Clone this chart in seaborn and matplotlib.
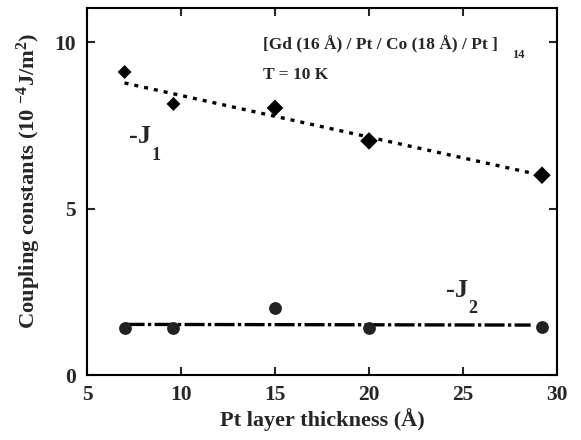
import matplotlib
matplotlib.use("Agg")
import matplotlib.pyplot as plt
import seaborn as sns
import pandas as pd

# data
thickness = [7.0, 9.6, 15.0, 20.0, 29.2]
j1 = [9.1, 8.14, 8.02, 7.03, 6.0]
j2 = [1.41, 1.41, 2.01, 1.41, 1.44]
fit_x = [7.0, 28.6]
fit_j1 = [8.77, 6.07]
fit_j2 = [1.52, 1.50]
xticks = [5, 10, 15, 20, 25, 30]
yticks = [0, 5, 10]

sns.set_theme(style="ticks")
plt.rcParams['font.family'] = ['Liberation Serif', 'DejaVu Serif']
plt.rcParams['font.weight'] = 'bold'
plt.rcParams['mathtext.fontset'] = 'custom'
plt.rcParams['mathtext.rm'] = 'Liberation Serif:bold'
plt.rcParams['mathtext.it'] = 'Liberation Serif:bold'
plt.rcParams['mathtext.bf'] = 'Liberation Serif:bold'

fig = plt.figure(figsize=(5.81, 4.40), dpi=100)
ax = fig.add_axes([0.1497, 0.1477, 0.809, 0.834])

df = pd.DataFrame({"x": thickness, "j1": j1, "j2": j2})
dfit = pd.DataFrame({"x": fit_x, "j1": fit_j1, "j2": fit_j2})

sns.lineplot(data=dfit, x="x", y="j1", ax=ax, color="black", lw=2.4,
             linestyle=(0, (1.2, 1.8)))
sns.lineplot(data=dfit, x="x", y="j2", ax=ax, color="black", lw=2.4,
             linestyle=(0, (6, 1, 1, 1)))
sizes = [50, 50, 72, 80, 80]
ax.scatter(df["x"], df["j1"], marker="D", s=sizes, color="black",
           linewidths=0, zorder=3)
ax.scatter(df["x"], df["j2"], marker="o", s=85, color="#222222",
           linewidths=0, zorder=3)

ax.set_xlim(5, 30)
ax.set_ylim(0, 11.02)
ax.set_xticks(xticks)
ax.set_yticks(yticks)
ax.tick_params(direction="in", top=True, right=True, length=6, width=1.5,
               labelsize=15.5)
ax.tick_params(axis="x", pad=7)
ax.tick_params(axis="y", pad=8)
for lab in ax.get_xticklabels() + ax.get_yticklabels():
    lab.set_fontweight("bold")
for s in ax.spines.values():
    s.set_linewidth(1.5)
    s.set_color("black")

ax.set_xlabel("Pt layer thickness (Å)", fontsize=16, fontweight="bold")
ax.xaxis.set_label_coords(0.5, -0.09)
ax.set_ylabel(r"Coupling constants (10 $^{-4}$J/m$^{2}$)", fontsize=16.2,
              fontweight="bold")
ax.yaxis.set_label_coords(-0.094, 0.53)

ax.text(0.374, 0.899, "[Gd (16 Å) / Pt / Co (18 Å) / Pt ]",
        transform=ax.transAxes, fontsize=12.5, fontweight="bold", va="center")
ax.text(0.905, 0.872, "14", transform=ax.transAxes, fontsize=9,
        fontweight="bold", va="center")
ax.text(0.374, 0.817, "T = 10 K", transform=ax.transAxes, fontsize=12.5,
        fontweight="bold", va="center")
ax.text(7.25, 7.15, "-J", fontsize=19, fontweight="bold", va="center")
ax.text(8.45, 6.6, "1", fontsize=13, fontweight="bold", va="center")
ax.text(24.1, 2.55, "-J", fontsize=19, fontweight="bold", va="center")
ax.text(25.3, 2.0, "2", fontsize=13, fontweight="bold", va="center")

fig.savefig("out.png", dpi=100)
